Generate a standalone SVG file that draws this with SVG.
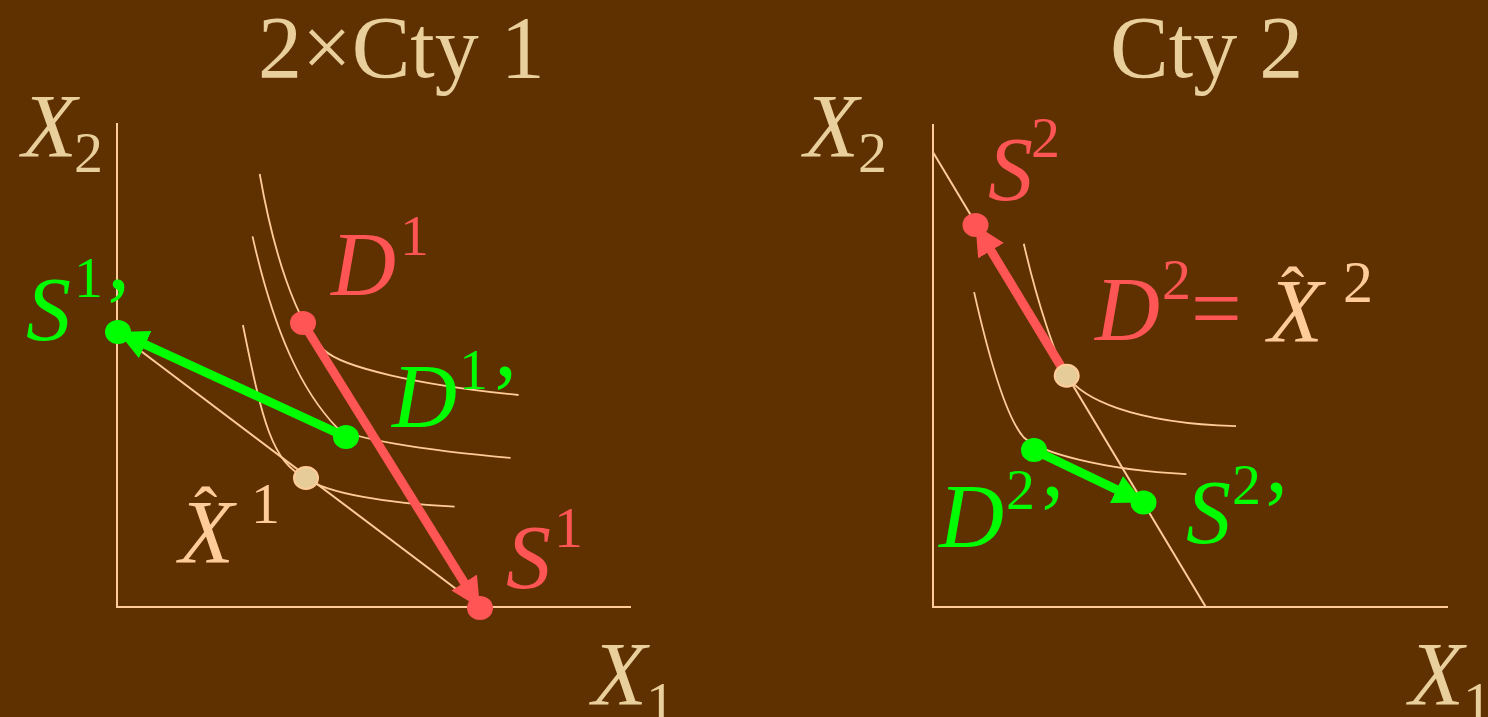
<svg xmlns="http://www.w3.org/2000/svg" width="1488" height="717" viewBox="0 0 1488 717">
<style>
.t{font-family:"Liberation Serif","Times New Roman",serif;}
.i{font-style:italic;}
.big{font-size:90px;}
.sup{font-size:58px;}
.title{fill:#E9CF9C;font-size:88px;}
.ax{fill:#E9CF9C;}
.pe{fill:#FFCC99;}
.rd{fill:#FF5555;}
.gr{fill:#00FF00;}
.line{stroke:#FFCC99;stroke-width:2;fill:none;}
.curve{stroke:#FFCC99;stroke-width:1.8;fill:none;}
.ar-r{stroke:#FF5555;stroke-width:9;fill:none;}
.ar-g{stroke:#00FF00;stroke-width:9;fill:none;}
</style>
<defs>
<marker id="hr" markerUnits="userSpaceOnUse" markerWidth="32" markerHeight="30" refX="30" refY="15" orient="auto"><path d="M0,0 L30,15 L0,30 z" fill="#FF5555"/></marker>
<marker id="hg" markerUnits="userSpaceOnUse" markerWidth="32" markerHeight="30" refX="30" refY="15" orient="auto"><path d="M0,0 L30,15 L0,30 z" fill="#00FF00"/></marker>
</defs>
<rect width="1488" height="717" fill="#603100"/>
<g id="titles" class="t">
<text class="title" x="258" y="77">2×Cty 1</text>
<text class="title" x="1110" y="77">Cty 2</text>
</g>
<g id="axes">
<path class="line" d="M117,123 V607 H631"/>
<path class="line" d="M933,124 V607 H1448"/>
<path class="line" d="M117,333 L480,607"/>
<path class="line" d="M933.5,153 L1205.8,607"/>
</g>
<g id="curves">
<path class="curve" d="M259.7,174 C273,250 295.3,322.2 324,350 C342,367.4 418.6,385 518.6,395"/>
<path class="curve" d="M252.5,236.4 C274.5,334 302.2,391.4 336.7,427.4 C350,438 420,450 510.6,457.9"/>
<path class="curve" d="M242.9,325 C262.7,423 272,462 306,478 C325,493 390,504 454.6,506.6"/>
<path class="curve" d="M1023.8,243.7 C1037.1,302.2 1056.3,358.8 1066.7,375.8 C1082,398 1130,423 1236,426.2"/>
<path class="curve" d="M974.1,292.1 C990.6,365.2 1007.3,418.8 1023.8,437.5 C1040,452 1100,470 1186.4,474.1"/>
</g>
<g id="connectors">
<path class="ar-r" d="M303,323 L480,608" marker-end="url(#hr)"/>
<path class="ar-g" d="M346,437 L118,332" marker-end="url(#hg)"/>
<path class="ar-r" d="M1066.7,375.8 L975.5,225" marker-end="url(#hr)"/>
<path class="ar-g" d="M1034,450 L1143.5,502.5" marker-end="url(#hg)"/>
</g>
<g id="node-D1"><ellipse cx="303" cy="323" rx="13" ry="12" fill="#FF5555"/></g>
<g id="node-S1"><ellipse cx="480" cy="608" rx="13" ry="12" fill="#FF5555"/></g>
<g id="node-D1p"><ellipse cx="346" cy="437" rx="13" ry="12" fill="#00FF00"/></g>
<g id="node-S1p"><ellipse cx="118" cy="332" rx="13" ry="12" fill="#00FF00"/></g>
<g id="node-X1"><ellipse cx="306" cy="478" rx="12" ry="11" fill="#E6CC99" stroke="#FFCC99" stroke-width="2"/></g>
<g id="node-S2"><ellipse cx="975.5" cy="225" rx="13" ry="12" fill="#FF5555"/></g>
<g id="node-X2"><ellipse cx="1066.7" cy="375.8" rx="12" ry="11" fill="#E6CC99" stroke="#FFCC99" stroke-width="2"/></g>
<g id="node-D2p"><ellipse cx="1034" cy="450" rx="13" ry="12" fill="#00FF00"/></g>
<g id="node-S2p"><ellipse cx="1143.5" cy="502.5" rx="13" ry="12" fill="#00FF00"/></g>
<g id="labels" class="t">
<text class="i big ax" x="22" y="157">X</text><text class="sup ax" x="74" y="172">2</text>
<text class="i big ax" x="592" y="705">X</text><text class="sup ax" x="646" y="722">1</text>
<text class="i big ax" x="804" y="157">X</text><text class="sup ax" x="858" y="172">2</text>
<text class="i big ax" x="1409" y="705">X</text><text class="sup ax" x="1463" y="722">1</text>
<text class="i big rd" x="331" y="295">D</text><text class="sup rd" x="400" y="255">1</text>
<text class="i big gr" x="26" y="340">S</text><text class="sup gr" x="74" y="297">1</text><text class="big gr" x="103" y="340">’</text>
<text class="i big gr" x="392" y="427">D</text><text class="sup gr" x="459" y="389">1</text><text class="big gr" x="490" y="427">’</text>
<text class="i big pe" x="179" y="563">X</text><text class="pe" style="font-size:70px" x="194" y="535">ˆ</text><text class="sup pe" x="251" y="523">1</text>
<text class="i big rd" x="506" y="588">S</text><text class="sup rd" x="554" y="547">1</text>
<text class="i big rd" x="988" y="200">S</text><text class="sup rd" x="1031" y="157">2</text>
<text class="i big rd" x="1095" y="340">D</text><text class="sup rd" x="1162" y="299">2</text><text class="big rd" x="1191" y="339">=</text>
<text class="i big pe" x="1268" y="342">X</text><text class="pe" style="font-size:70px" x="1281" y="315">ˆ</text><text class="pe" style="font-size:60px" x="1343" y="302">2</text>
<text class="i big gr" x="939" y="547">D</text><text class="sup gr" x="1006" y="509">2</text><text class="big gr" x="1037" y="547">’</text>
<text class="i big gr" x="1186" y="543">S</text><text class="sup gr" x="1232" y="504">2</text><text class="big gr" x="1261" y="543">’</text>
</g>
</svg>
